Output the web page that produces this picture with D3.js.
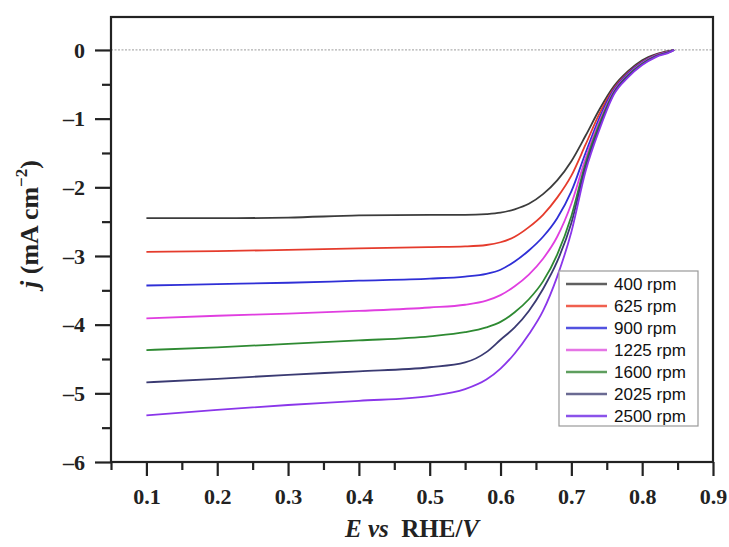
<!DOCTYPE html>
<html><head><meta charset="utf-8">
<script src="https://cdn.jsdelivr.net/npm/d3@7"></script>
<style>body{margin:0;background:#fff;} svg{display:block;}</style>
</head><body>
<svg id="c" width="729" height="547"></svg>
<script>
const series = ["400 rpm","625 rpm","900 rpm","1225 rpm","1600 rpm","2025 rpm","2500 rpm"];
const colors = ["#3c3c3c","#e53b2c","#2f2fd6","#e03ee0","#2e8a32","#3a3a72","#8a36ea"];
const legendColors = ["#606060","#f0604f","#5252e0","#e575e5","#5e9e5e","#6a6a92","#8b52ea"];
const E = [0.10,0.20,0.30,0.40,0.50,0.55,0.58,0.60,0.62,0.64,0.66,0.68,0.70,0.72,0.74,0.76,0.78,0.80,0.82,0.84,0.845];
const j400  = [-2.45,-2.45,-2.44,-2.41,-2.40,-2.40,-2.39,-2.37,-2.32,-2.24,-2.10,-1.90,-1.62,-1.25,-0.86,-0.53,-0.31,-0.15,-0.06,-0.01,0];
const j625  = [-2.94,-2.93,-2.91,-2.89,-2.87,-2.86,-2.84,-2.80,-2.72,-2.58,-2.40,-2.15,-1.83,-1.38,-0.92,-0.56,-0.33,-0.17,-0.07,-0.015,0];
const j900  = [-3.43,-3.41,-3.39,-3.36,-3.33,-3.30,-3.26,-3.20,-3.08,-2.92,-2.72,-2.45,-2.06,-1.50,-0.98,-0.58,-0.34,-0.18,-0.075,-0.018,0];
const j1225 = [-3.91,-3.87,-3.84,-3.80,-3.75,-3.71,-3.65,-3.57,-3.44,-3.27,-3.04,-2.72,-2.24,-1.58,-1.03,-0.60,-0.36,-0.19,-0.08,-0.02,0];
const j1600 = [-4.37,-4.33,-4.28,-4.23,-4.17,-4.11,-4.04,-3.96,-3.82,-3.63,-3.37,-2.98,-2.42,-1.65,-1.07,-0.62,-0.37,-0.20,-0.085,-0.022,0];
const j2025 = [-4.84,-4.79,-4.73,-4.68,-4.62,-4.55,-4.40,-4.22,-4.04,-3.80,-3.48,-3.08,-2.52,-1.70,-1.11,-0.63,-0.38,-0.21,-0.09,-0.025,0];
const j2500 = [-5.32,-5.24,-5.17,-5.11,-5.04,-4.94,-4.80,-4.64,-4.42,-4.14,-3.80,-3.30,-2.65,-1.77,-1.15,-0.65,-0.40,-0.22,-0.10,-0.03,0];
const jSeries = [j400,j625,j900,j1225,j1600,j2025,j2500];
const xTicks = [0.1,0.2,0.3,0.4,0.5,0.6,0.7,0.8,0.9];
const xMinor = [0.05,0.15,0.25,0.35,0.45,0.55,0.65,0.75,0.85];
const yTicks = [0,-1,-2,-3,-4,-5,-6];
const yMinor = [-0.5,-1.5,-2.5,-3.5,-4.5,-5.5];

const svg = d3.select("#c");
const L = 111, R = 713, T = 17, B = 462;
const x = d3.scaleLinear().domain([0.05,0.9]).range([L,R]);
const y = d3.scaleLinear().domain([-6,0.48]).range([B,T]);

// zero reference line
svg.append("line").attr("x1",L).attr("x2",R).attr("y1",y(0)).attr("y2",y(0))
  .attr("stroke","#b0b0b0").attr("stroke-width",1.2).attr("stroke-dasharray","2,1.5");

// curves
const line = d3.line().x(d=>x(d[0])).y(d=>y(d[1])).curve(d3.curveMonotoneX);
jSeries.forEach((js,i)=>{
  svg.append("path").datum(E.map((e,k)=>[e,js[k]]))
    .attr("d",line).attr("fill","none").attr("stroke",colors[i]).attr("stroke-width",1.8);
});

// frame
svg.append("rect").attr("x",L).attr("y",T).attr("width",R-L).attr("height",B-T)
  .attr("fill","none").attr("stroke","#222").attr("stroke-width",2.2);

const tickFont = "'Liberation Serif','Times New Roman',serif";
// x axis
const gx = svg.append("g").attr("transform",`translate(0,${B})`);
gx.call(d3.axisBottom(x).tickValues(xTicks).tickSize(14).tickPadding(12).tickFormat(d3.format(".1f")));
gx.append("g").call(d3.axisBottom(x).tickValues(xMinor).tickSize(8).tickFormat(""));
// y axis
const gy = svg.append("g").attr("transform",`translate(${L},0)`);
gy.call(d3.axisLeft(y).tickValues(yTicks).tickSize(16).tickPadding(10).tickFormat(d=>d===0?"0":"\u2013"+Math.abs(d)));
gy.append("g").call(d3.axisLeft(y).tickValues(yMinor).tickSize(9).tickFormat(""));
svg.selectAll(".domain").remove();
svg.selectAll(".tick line").attr("stroke","#222").attr("stroke-width",2.2);
svg.selectAll(".tick text").attr("font-family",tickFont).attr("font-weight","bold")
  .attr("font-size",22).attr("fill","#222");

// axis titles
const xt = svg.append("text").attr("x",(L+R)/2).attr("y",537).attr("text-anchor","middle")
  .attr("font-family",tickFont).attr("font-size",25).attr("font-weight","bold").attr("fill","#222");
xt.append("tspan").attr("font-style","italic").text("E");
xt.append("tspan").attr("font-style","italic").text(" vs ");
xt.append("tspan").text("\u00a0RHE/");
xt.append("tspan").attr("font-style","italic").text("V");

const yt = svg.append("text").attr("transform",`translate(38,224) rotate(-90)`).attr("text-anchor","middle")
  .attr("font-family",tickFont).attr("font-size",26).attr("font-weight","bold").attr("fill","#222");
yt.append("tspan").attr("font-style","italic").text("j");
yt.append("tspan").text(" (mA cm");
yt.append("tspan").attr("font-size",17).attr("dy",-11).text("\u22122");
yt.append("tspan").attr("dy",11).text(")");

// legend
const lg = svg.append("g");
lg.append("rect").attr("x",559).attr("y",271).attr("width",139).attr("height",155)
  .attr("fill","#fff").attr("stroke","#999").attr("stroke-width",1.2);
series.forEach((s,i)=>{
  const yy = 284 + i*22;
  lg.append("line").attr("x1",566).attr("x2",607).attr("y1",yy).attr("y2",yy)
    .attr("stroke",legendColors[i]).attr("stroke-width",2.5);
  lg.append("text").attr("x",614).attr("y",yy+6).text(s)
    .attr("font-family","'Liberation Sans',Arial,sans-serif").attr("font-size",17).attr("fill","#111");
});
</script>
</body></html>
